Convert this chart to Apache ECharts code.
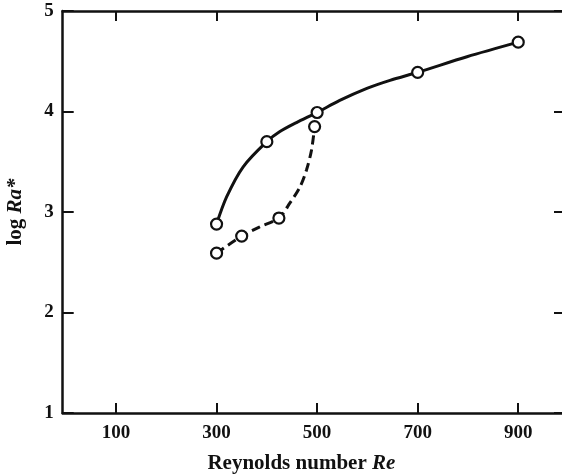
<!DOCTYPE html>
<html>
<head>
<meta charset="utf-8">
<script src="https://cdn.jsdelivr.net/npm/echarts@6/dist/echarts.min.js"></script>
<style>
html,body{margin:0;padding:0;background:#fff;overflow:hidden;}
#chart{width:562px;height:476px;}
</style>
</head>
<body>
<div id="chart"></div>
<script>
// Data
var xTicks = [100, 300, 500, 700, 900];
var yTicks = [1, 2, 3, 4, 5];
// measured points (circles)
var solidRe = [300, 400, 500, 700, 900];
var solidLogRa = [2.88, 3.70, 3.99, 4.39, 4.69];
var dashedRe = [300, 350, 424, 495];
var dashedLogRa = [2.59, 2.76, 2.94, 3.85];
// drawn curves, read along their path in the picture
var solidCurveRe = [300, 320, 353, 400, 426, 459, 500, 545, 599, 645, 700, 798, 900];
var solidCurveLogRa = [2.88, 3.15, 3.45, 3.70, 3.80, 3.89, 3.99, 4.11, 4.23, 4.31, 4.39, 4.545, 4.69];
var dashedCurveRe = [300, 350, 385, 424, 446, 466, 479, 489, 495];
var dashedCurveLogRa = [2.59, 2.76, 2.85, 2.94, 3.09, 3.25, 3.42, 3.62, 3.85];

function pairs(xs, ys) { return xs.map(function (x, i) { return [x, ys[i]]; }); }

var FONT = 'Liberation Serif';
var INK = '#111';

var chart = echarts.init(document.getElementById('chart'), null, {renderer: 'canvas', width: 562, height: 476});
var marker = {
  type: 'scatter', xAxisIndex: 0, yAxisIndex: 0,
  symbol: 'circle', symbolSize: 11,
  itemStyle: {color: '#fff', borderColor: INK, borderWidth: 2.2, opacity: 1},
  z: 5
};
function line(c, show) { return {show: show !== false, onZero: false, lineStyle: {color: c, width: 2.5}}; }
chart.setOption({
  backgroundColor: '#fff',
  animation: false,
  grid: {left: 62.7, top: 11, width: 503.3, height: 402, containLabel: false, outerBoundsMode: 'none', show: false},
  xAxis: [
    {
      type: 'value', min: -6, max: 995, position: 'bottom',
      axisLine: line(INK), splitLine: {show: false},
      axisTick: {show: true, inside: true, length: 10, lineStyle: {color: INK, width: 2}, customValues: xTicks},
      axisLabel: {show: true, margin: 11, color: INK, fontFamily: FONT, fontSize: 19, fontWeight: 'bold', customValues: xTicks},
      name: 'Reynolds number {i|Re}',
      nameLocation: 'middle', nameGap: 40,
      nameTextStyle: {color: INK, fontFamily: FONT, fontSize: 21, fontWeight: 'bold', padding: [0, 26, 0, 0],
        rich: {i: {fontStyle: 'italic', fontFamily: FONT, fontSize: 21, fontWeight: 'bold', color: INK}}}
    },
    {
      type: 'value', min: -6, max: 995, position: 'top',
      axisLine: line(INK), splitLine: {show: false},
      axisTick: {show: true, inside: true, length: 10, lineStyle: {color: INK, width: 2}, customValues: xTicks},
      axisLabel: {show: false}
    }
  ],
  yAxis: [
    {
      type: 'value', min: 1, max: 5, interval: 1, position: 'left',
      axisLine: line(INK), splitLine: {show: false},
      axisTick: {show: true, inside: true, length: 11, lineStyle: {color: INK, width: 2}},
      axisLabel: {show: true, margin: 9, color: INK, fontFamily: FONT, fontSize: 19, fontWeight: 'bold'},
      name: 'log {i|Ra*}',
      nameLocation: 'middle', nameGap: 37, nameRotate: 90,
      nameTextStyle: {color: INK, fontFamily: FONT, fontSize: 21, fontWeight: 'bold',
        rich: {i: {fontStyle: 'italic', fontFamily: FONT, fontSize: 21, fontWeight: 'bold', color: INK}}}
    },
    {
      type: 'value', min: 1, max: 5, interval: 1, position: 'right',
      axisLine: line(INK, false), splitLine: {show: false},
      axisTick: {show: true, inside: true, length: 12, lineStyle: {color: INK, width: 2}},
      axisLabel: {show: false}
    }
  ],
  series: [
    {
      type: 'line', xAxisIndex: 0, yAxisIndex: 0,
      data: pairs(solidCurveRe, solidCurveLogRa),
      smooth: 0.3, showSymbol: false, symbol: 'none',
      lineStyle: {color: INK, width: 3},
      z: 3
    },
    {
      type: 'line', xAxisIndex: 0, yAxisIndex: 0,
      data: pairs(dashedCurveRe, dashedCurveLogRa),
      smooth: 0.3, showSymbol: false, symbol: 'none',
      lineStyle: {color: INK, width: 3, type: [9, 5]},
      z: 3
    },
    Object.assign({}, marker, {data: pairs(solidRe, solidLogRa)}),
    Object.assign({}, marker, {data: pairs(dashedRe, dashedLogRa)})
  ]
});
</script>
</body>
</html>
